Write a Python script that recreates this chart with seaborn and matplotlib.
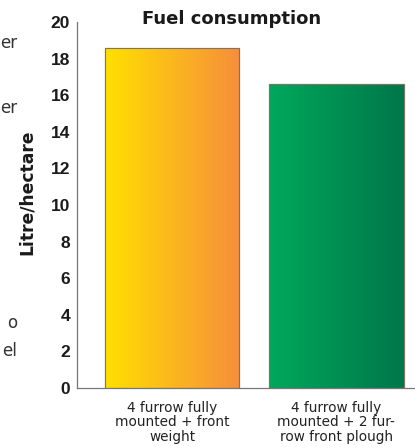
import numpy as np
import pandas as pd
import matplotlib
matplotlib.use("Agg")
import matplotlib.pyplot as plt
import seaborn as sns
from matplotlib.colors import LinearSegmentedColormap

categories = ["4 furrow fully\nmounted + front\nweight", "4 furrow fully\nmounted + 2 fur-\nrow front plough"]
values = [18.6, 16.6]
yticks = [0, 2, 4, 6, 8, 10, 12, 14, 16, 18, 20]

grad_left = ["#FFE000", "#00A85C"]
grad_right = ["#F78E3C", "#00774A"]

sns.set_theme(style="white")
plt.rcParams['font.family'] = ['DejaVu Sans']

W, H = 415, 448
fig = plt.figure(figsize=(W / 100, H / 100), dpi=100)
ax = fig.add_axes([77 / W, 1 - 388 / H, (415 - 77) / W, (388 - 22) / H])

df = pd.DataFrame({"cat": categories, "val": values})
sns.barplot(data=df, x="cat", y="val", ax=ax, width=0.82, color="white",
            edgecolor="#8a7a60", linewidth=0.8, saturation=1)

ax.set_ylim(0, 20)
ax.set_xlim(-0.58, 1.48)
for i, p in enumerate(ax.patches):
    x0, y0 = p.get_x(), p.get_y()
    w, h = p.get_width(), p.get_height()
    cmap = LinearSegmentedColormap.from_list("g%d" % i, [grad_left[i], grad_right[i]])
    grad = np.linspace(0, 1, 256).reshape(1, -1)
    im = ax.imshow(grad, cmap=cmap, extent=[x0, x0 + w, y0, y0 + h], aspect="auto",
                   zorder=p.get_zorder() + 0.1, interpolation="bicubic")
    im.set_clip_path(p)
    edge = plt.Rectangle((x0, y0), w, h, fill=False, edgecolor="#7d7462",
                         linewidth=0.8, zorder=p.get_zorder() + 0.2)
    ax.add_patch(edge)
ax.set_ylim(0, 20)
ax.set_xlim(-0.58, 1.48)

ax.set_yticks(yticks)
ax.set_yticklabels([str(t) for t in yticks], fontsize=12.5, fontweight="bold",
                   color="#1a1a1a", family=["Liberation Sans", "DejaVu Sans"])
ax.set_xticks([0, 1])
ax.set_xticklabels(categories, fontsize=9.8, color="#222222", linespacing=1.08)
ax.tick_params(axis="y", length=0, pad=5)
ax.tick_params(axis="x", length=0, pad=9)
ax.set_xlabel("")
ax.set_ylabel("")
for s in ["top", "right"]:
    ax.spines[s].set_visible(False)
for s in ["left", "bottom"]:
    ax.spines[s].set_color("#777777")
    ax.spines[s].set_linewidth(0.9)

fig.text(27 / W, 1 - 192 / H, "Litre/hectare", rotation=90, ha="center", va="center",
         fontsize=12.3, fontweight="bold", color="#1a1a1a")
fig.text(232 / W, 1 - 19 / H, "Fuel consumption", ha="center", va="center",
         fontsize=13, fontweight="bold", color="#1a1a1a")

for txt, yy in [("er", 43), ("er", 108), ("o", 323), ("el", 351)]:
    fig.text(17 / W, 1 - yy / H, txt, ha="right", va="center", fontsize=12, color="#333333")

fig.savefig("out.png", dpi=100)
